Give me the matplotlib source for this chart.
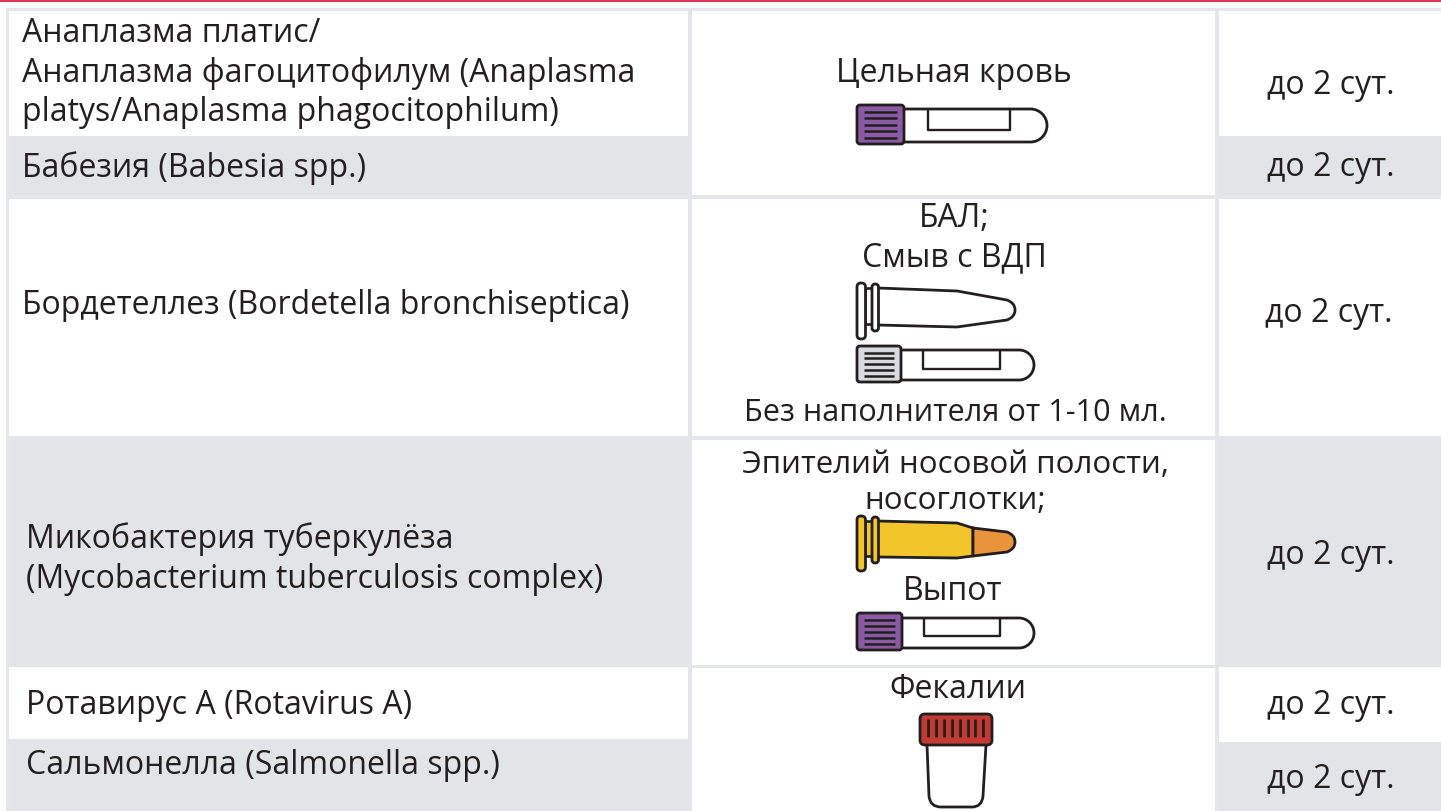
import matplotlib
matplotlib.use('Agg')
import matplotlib.pyplot as plt
from matplotlib.patches import Rectangle, FancyBboxPatch, PathPatch
from matplotlib.path import Path

plt.rcParams['font.family'] = ['Open Sans', 'DejaVu Sans']

W, H = 1441, 811
INK = '#231f20'
LINE = '#e5e6ea'
GRAY = '#e3e4e8'
RED = '#e2395b'
FS = 23
LS = 1.25

# text of the table
pathogens = [
    'Анаплазма платис/\nАнаплазма фагоцитофилум (Anaplasma\nplatys/Anaplasma phagocitophilum)',
    'Бабезия (Babesia spp.)',
    'Бордетеллез (Bordetella bronchiseptica)',
    'Микобактерия туберкулёза\n(Mycobacterium tuberculosis complex)',
    'Ротавирус А (Rotavirus A)',
    'Сальмонелла (Salmonella spp.)',
]
pathogen_x = [22, 22, 22, 26, 26, 26]
pathogen_y = [73, 168, 305, 559, 705, 765]

samples = ['Цельная кровь', 'БАЛ;\nСмыв с ВДП', 'Без наполнителя от 1-10 мл.',
           'Эпителий носовой полости,\nносоглотки;', 'Выпот', 'Фекалии']
sample_x = [954, 954, 955, 955, 953, 958]
sample_y = [74, 238, 413, 483, 592, 690]
sample_fs = [FS, FS, 22.1, 22.5, FS, FS]

times = ['до 2 сут.'] * 6
time_x = [1331, 1331, 1329, 1331, 1331, 1331]
time_y = [85, 168, 313, 555, 705, 779]

fig = plt.figure(figsize=(W / 100, H / 100), dpi=100)
ax = fig.add_axes([0, 0, 1, 1])
ax.set_xlim(0, W)
ax.set_ylim(H, 0)
ax.axis('off')

MV, LT, CU, C3 = Path.MOVETO, Path.LINETO, Path.CURVE4, Path.CURVE3


def box(x0, y0, x1, y1, color, z=1):
    ax.add_patch(Rectangle((x0, y0), x1 - x0, y1 - y0, fc=color, ec='none', zorder=z))


def stroke(verts, codes=None, fc='none', lw=2.0, z=5):
    ax.add_patch(PathPatch(Path(verts, codes), fc=fc, ec=INK, lw=lw, zorder=z,
                           capstyle='round', joinstyle='round'))


def rounded(x0, y0, x1, y1, r, fc, lw=2.0, z=5):
    ax.add_patch(FancyBboxPatch((x0 + r, y0 + r), x1 - x0 - 2 * r, y1 - y0 - 2 * r,
                                boxstyle=f'round,pad={r},rounding_size={r}',
                                fc=fc, ec=INK, lw=lw, zorder=z))


def tube(x0, cap_x1, x1, cap_y0, cap_y1, top, bot, lab_x0, lab_x1, lab_y1, cap_color):
    # пробирка: колпачок, корпус с круглым дном и наклейка
    r = (bot - top) / 2
    k = 0.5523 * r
    stroke([(cap_x1, top), (x1 - r, top),
            (x1 - r + k, top), (x1, top + r - k), (x1, top + r),
            (x1, top + r + k), (x1 - r + k, bot), (x1 - r, bot),
            (cap_x1, bot)],
           [MV, LT, CU, CU, CU, CU, CU, CU, LT], fc='white')
    stroke([(lab_x0, top), (lab_x0, lab_y1), (lab_x1, lab_y1), (lab_x1, top)], lw=1.7)
    rounded(x0, cap_y0, cap_x1, cap_y1, 3, cap_color, z=6)
    n = 5
    step = (cap_y1 - cap_y0 - 13) / (n - 1)
    for i in range(n):
        y = cap_y0 + 6.5 + i * step
        ax.plot([x0 + 7, cap_x1 - 7], [y, y], color=INK, lw=1.8, zorder=7, solid_capstyle='butt')


def tip_path(start, y_tip_top, y_mid, y_tip_bot, end):
    verts = [start, (1007, y_tip_top),
             (1012, y_tip_top + 2), (1015, y_mid - 5), (1015, y_mid),
             (1015, y_mid + 5), (1012, y_tip_bot - 2), (1007, y_tip_bot), end]
    codes = [MV, LT, CU, CU, CU, CU, CU, CU, LT]
    return verts, codes


def eppendorf(fl_y0, fl_y1, fl2_y1, y_top, y_shoulder, y_tip_top, y_mid, y_tip_bot,
              y_sh_bot, y_bot, body_color, tip_color=None, split=None):
    # шейка между двумя фланцами
    ax.add_patch(Rectangle((865, y_top), 8, y_bot - y_top - 1, fc=body_color, ec=INK, lw=1.9, zorder=4))
    if tip_color:
        sx, sy0, sy1 = split
        stroke([(878, y_top), (957, y_shoulder), (sx, sy0), (sx, sy1), (957, y_sh_bot), (878, y_bot)],
               [MV, LT, LT, LT, LT, LT], fc=body_color)
        verts, codes = tip_path((sx, sy0), y_tip_top, y_mid, y_tip_bot, (sx, sy1))
        stroke(verts + [(sx, sy0)], codes + [LT], fc=tip_color, z=6)
    else:
        verts, codes = tip_path((957, y_shoulder), y_tip_top, y_mid, y_tip_bot, (957, y_sh_bot))
        stroke([(878, y_top)] + verts + [(878, y_bot)], [MV, LT] + codes[1:] + [LT], fc=body_color)
    rounded(857, fl_y0, 865.5, fl_y1, 4, body_color, z=7)
    rounded(872, fl_y0 + 1, 878.5, fl2_y1, 3, body_color, z=7)


# серая заливка строк
box(6, 136, 688, 196, GRAY)
box(6, 438, 688, 667, GRAY)
box(6, 739, 688, 811, GRAY)
box(1219, 136, W, 196, GRAY)
box(1219, 438, W, 667, GRAY)
box(1219, 742, W, 811, GRAY)

# линии сетки
box(0, 0, W, 2.2, RED, z=3)
box(6, 8, W, 11, LINE, z=2)
box(6, 8, 9, 811, LINE, z=2)
box(688, 8, 692, 811, LINE, z=2)
box(1215, 8, 1219, 811, LINE, z=2)
box(6, 195, W, 198.5, LINE, z=2)
box(6, 436, W, 440, LINE, z=2)
box(692, 665, 1215, 668, LINE, z=2)

for s, x, y in zip(pathogens, pathogen_x, pathogen_y):
    ax.text(x, y, s, ha='left', va='center', fontsize=FS, color=INK, linespacing=LS, zorder=8)
for s, x, y, fs in zip(samples, sample_x, sample_y, sample_fs):
    ax.text(x, y, s, ha='center', va='center', fontsize=fs, color=INK, linespacing=LS, zorder=8)
for s, x, y in zip(times, time_x, time_y):
    ax.text(x, y, s, ha='center', va='center', fontsize=FS, color=INK, zorder=8)

PURPLE = '#8a5aa2'
tube(857, 904, 1047, 105, 144, 109, 142, 928, 1010, 130, PURPLE)
eppendorf(283, 339, 331, 288, 291, 300, 310, 320, 327, 325, 'white')
tube(857, 901, 1034, 346, 382, 350, 380, 923, 1000, 369, '#d9dadd')
eppendorf(516, 571, 563, 521, 523, 532, 542, 552, 558, 557, '#f2c52a', '#e9943a', (973, 528, 556))
tube(857, 902, 1034, 613, 650, 618, 648, 924, 1000, 636, PURPLE)

# контейнер для фекалий
stroke([(927, 745), (929, 796), (930, 807), (941, 807), (972, 807), (982, 807), (983, 796), (986, 745)],
       [MV, LT, C3, C3, LT, C3, C3, LT], fc='white', z=5)
rounded(920, 714, 992, 745, 5, '#c23a32', z=6)
for tx in [928, 936, 944, 952, 960, 968, 975, 983]:
    ax.plot([tx, tx], [719, 737], color=INK, lw=2.0, zorder=7, solid_capstyle='butt')

fig.savefig('out.png', dpi=100)
